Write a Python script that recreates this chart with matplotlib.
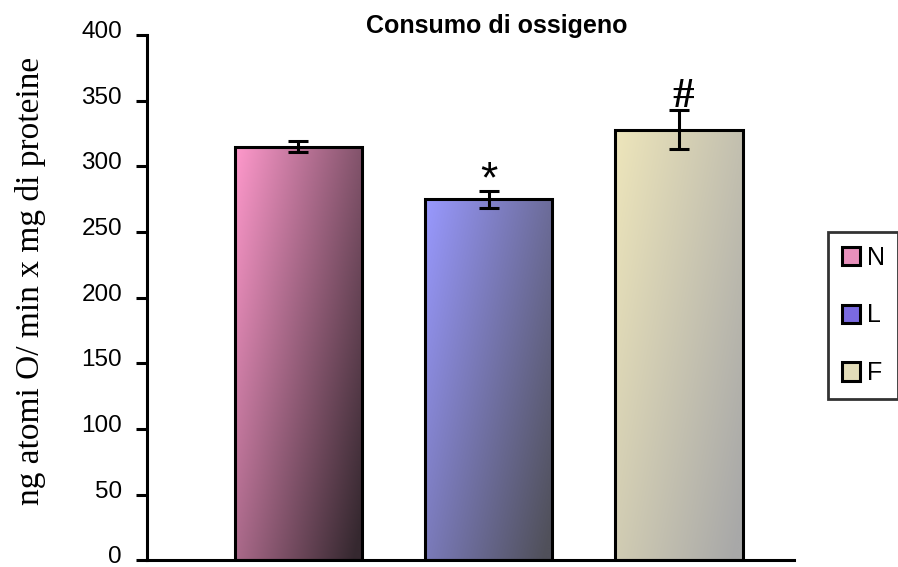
import numpy as np
import matplotlib.pyplot as plt
import matplotlib as mpl
from matplotlib.colors import to_rgb
from matplotlib.patches import Patch
from matplotlib.transforms import ScaledTranslation

mpl.rcParams['font.family'] = ['Liberation Sans', 'DejaVu Sans']

# dati
gruppi = ['N', 'L', 'F']
consumo = [315, 275, 328]
errori = [4, 6.5, 15]
segni = ['', '*', '#']
col_chiaro = ['#FF99CC', '#9999FF', '#EEE6BB']
col_scuro = ['#35282F', '#50505A', '#A8A8A8']
col_legenda = ['#E890BC', '#7A6AE0', '#E2DCB8']

fig = plt.figure(figsize=(8.98, 5.67), dpi=100)
ax = fig.add_axes([0.1637, 0.0115, 0.7205, 0.9268])

x = np.arange(len(gruppi))
larg = 0.67

# barre con sfumatura diagonale (chiaro in alto a sinistra, scuro in basso a destra)
nx, ny = 120, 200
xf = np.linspace(0, 1, nx)[None, :]
yf = np.linspace(0, 1, ny)[:, None]
t = np.clip(0.62 * xf + 0.42 * yf, 0, 1)
for i in range(len(gruppi)):
    c0 = np.array(to_rgb(col_chiaro[i]))
    c1 = np.array(to_rgb(col_scuro[i]))
    img = c0[None, None, :] * (1 - t[..., None]) + c1[None, None, :] * t[..., None]
    ax.imshow(img, extent=(x[i] - larg / 2, x[i] + larg / 2, 0, consumo[i]),
              aspect='auto', zorder=1, interpolation='bilinear')

ax.bar(x, consumo, width=larg, facecolor='none', edgecolor='black',
       linewidth=2.2, zorder=2)
ax.errorbar(x, consumo, yerr=errori, fmt='none', ecolor='black',
            elinewidth=2.2, capsize=7.5, capthick=2.2, zorder=3)

for i in range(len(gruppi)):
    if segni[i] == '*':
        ax.text(x[i], consumo[i] + errori[i] - 8, segni[i], ha='center',
                va='bottom', fontsize=32)
    elif segni[i]:
        ax.text(x[i] + 0.02, consumo[i] + errori[i] - 5, segni[i], ha='center',
                va='bottom', fontsize=31, family='Liberation Serif',
                fontweight='bold')

ax.set_xlim(-0.795, 2.605)
ax.set_ylim(0, 400)
ax.set_yticks(range(0, 401, 50))
ax.set_xticks([])
for s in ['top', 'right']:
    ax.spines[s].set_visible(False)
for s in ['left', 'bottom']:
    ax.spines[s].set_linewidth(2.2)
ax.tick_params(axis='y', direction='out', length=8, width=2.2,
               labelsize=17.5, pad=10)
sposta = ScaledTranslation(0, 4 / 72, fig.dpi_scale_trans)
for lab in ax.get_yticklabels():
    lab.set_transform(lab.get_transform() + sposta)

fig.text(0.553, 0.955, 'Consumo di ossigeno', ha='center', va='center',
         fontsize=18, fontweight='bold')
fig.text(0.034, 0.505, 'ng atomi O/ min x mg di proteine', rotation=90,
         ha='center', va='center', fontsize=24, family='Liberation Serif')

maniglie = [Patch(facecolor=col_legenda[i], edgecolor='black', linewidth=2.2)
            for i in range(len(gruppi))]
leg = fig.legend(maniglie, gruppi, loc='upper left',
                 bbox_to_anchor=(0.922, 1 - 232 / 567), frameon=True,
                 fancybox=False, edgecolor='black', fontsize=18,
                 handlelength=0.75, handleheight=0.75, handletextpad=0.25,
                 labelspacing=1.35, borderpad=0.55, borderaxespad=0)
leg.get_frame().set_linewidth(2)

plt.savefig('out.png', dpi=100)
